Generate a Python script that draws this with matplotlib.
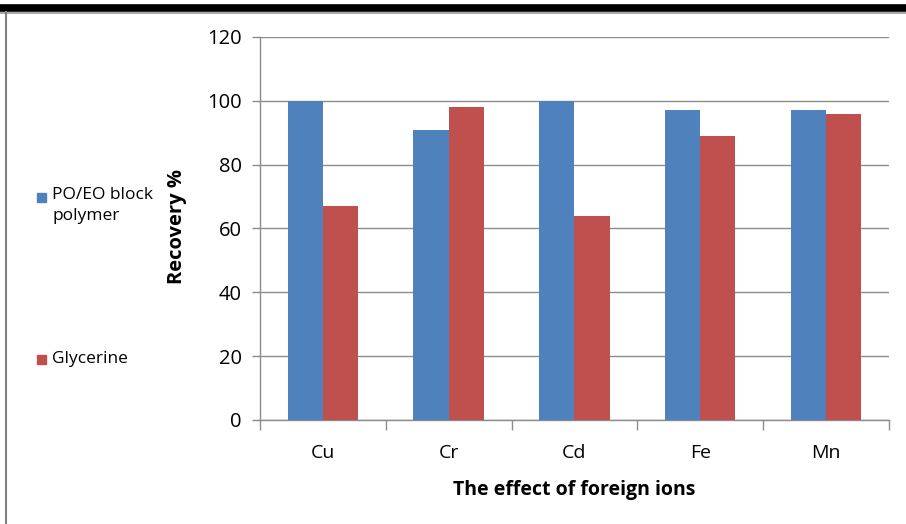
import numpy as np
import matplotlib.pyplot as plt
from matplotlib.lines import Line2D
from matplotlib.patches import Rectangle

ions = ['Cu', 'Cr', 'Cd', 'Fe', 'Mn']
polymer = [100, 91, 100, 97, 97]
glycerine = [67, 98, 64, 89, 96]
series_names = ['PO/EO block\npolymer', 'Glycerine']
yticks = [0, 20, 40, 60, 80, 100, 120]

blue = '#4F81BD'
red = '#C0504D'
grid_gray = '#8C8C8C'

plt.rcParams['font.family'] = ['Open Sans', 'DejaVu Sans']

fig = plt.figure(figsize=(9.06, 5.24), dpi=100)
ax = fig.add_axes([0.287, 0.1985, 0.694, 0.7309])

x = np.arange(len(ions))
w = 0.28
ax.bar(x - w / 2, polymer, width=w, color=blue, zorder=3)
ax.bar(x + w / 2, glycerine, width=w, color=red, zorder=3)

ax.set_xlim(-0.5, len(ions) - 0.5)
ax.set_ylim(0, 120)
ax.set_yticks(yticks)
ax.yaxis.grid(True, color=grid_gray, linewidth=1.0, zorder=0)
ax.tick_params(axis='y', length=6, width=1, color=grid_gray, labelsize=14.5, pad=7)

# category labels centred, tick marks on the boundaries
ax.set_xticks(x)
ax.set_xticklabels(ions, fontsize=14)
ax.tick_params(axis='x', length=0, pad=17)
ax.set_xticks(np.arange(len(ions) + 1) - 0.5, minor=True)
ax.tick_params(axis='x', which='minor', length=7, width=1, color=grid_gray)

for side in ['top', 'right']:
    ax.spines[side].set_visible(False)
for side in ['left', 'bottom']:
    ax.spines[side].set_color(grid_gray)
    ax.spines[side].set_linewidth(1.0)

ax.set_xlabel('The effect of foreign ions', fontsize=14, fontweight='bold', labelpad=13)
ax.set_ylabel('Recovery %', fontsize=14.5, fontweight='bold')
ax.yaxis.set_label_coords(-0.116, 0.505)

# legend on the left side
fig.patches.append(Rectangle((37 / 906, 1 - 202 / 524), 9 / 906, 9 / 524,
                             transform=fig.transFigure, color=blue))
fig.text(52 / 906, 1 - 187 / 524, series_names[0], fontsize=12.5,
         va='top', ha='left', linespacing=1.45)
fig.patches.append(Rectangle((37 / 906, 1 - 364 / 524), 9 / 906, 9 / 524,
                             transform=fig.transFigure, color=red))
fig.text(52 / 906, 1 - 359 / 524, series_names[1], fontsize=12.5,
         va='center', ha='left')

# frame lines around the chart
fig.add_artist(Line2D([0, 1], [1 - 8 / 524, 1 - 8 / 524], color='black',
                      linewidth=5.5, transform=fig.transFigure))
fig.add_artist(Line2D([0, 1], [1 - 12.5 / 524, 1 - 12.5 / 524], color='#9A9A9A',
                      linewidth=1.2, transform=fig.transFigure))
fig.add_artist(Line2D([5.5 / 906, 5.5 / 906], [0, 1 - 12 / 524], color='#7F7F7F',
                      linewidth=1.5, transform=fig.transFigure))

fig.savefig('out.png', dpi=100)
